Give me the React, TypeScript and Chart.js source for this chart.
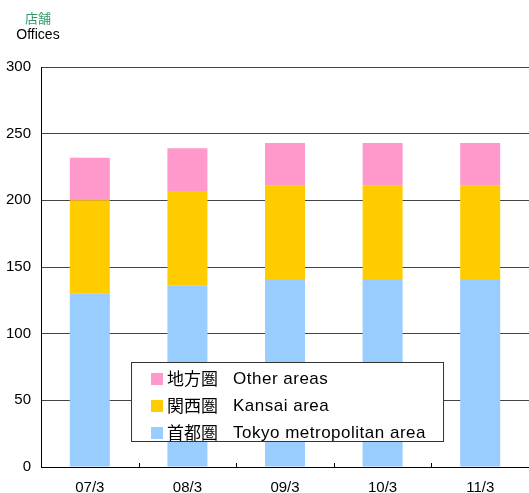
import React, { useEffect, useRef } from "react";
import { Chart, registerables } from "chart.js";

Chart.register(...registerables);

const categories = ["07/3", "08/3", "09/3", "10/3", "11/3"];
const tokyo = [130, 136, 141, 141, 141];
const kansai = [70, 71, 70, 70, 70];
const other = [32, 32, 32, 32, 32];
const seriesJa = ["首都圏", "関西圏", "地方圏"];
const seriesEn = ["Tokyo metropolitan area", "Kansai area", "Other areas"];
const seriesColors = ["#99CCFF", "#FFCC00", "#FF99CC"];
const yTitleJa = "店舗";
const yTitleEn = "Offices";

const LATIN = '"Liberation Sans", Arial, "Noto Sans CJK JP", sans-serif';

const decorPlugin = {
  id: "decor",
  afterDatasetsDraw(chart: any) {
    const { ctx, chartArea } = chart;
    const { left, right, bottom } = chartArea;
    ctx.save();
    // inward tick marks on x axis at category boundaries
    const n = categories.length;
    ctx.strokeStyle = "#000";
    ctx.lineWidth = 1;
    for (let i = 1; i < n; i++) {
      const x = Math.round(left + ((right - left) * i) / n) + 0.5;
      ctx.beginPath();
      ctx.moveTo(x, bottom - 4);
      ctx.lineTo(x, bottom);
      ctx.stroke();
    }
    // titles
    ctx.textAlign = "center";
    ctx.textBaseline = "middle";
    ctx.fillStyle = "#339966";
    ctx.font = '13px "Noto Sans CJK JP", sans-serif';
    ctx.fillText(yTitleJa, 38, 18);
    ctx.fillStyle = "#000";
    ctx.font = "14px " + LATIN;
    ctx.fillText(yTitleEn, 38, 35);

    // legend box
    const bx = left + 90;
    const by = bottom - 105;
    const bw = 312;
    const bh = 79;
    ctx.fillStyle = "#fff";
    ctx.fillRect(bx, by, bw, bh);
    ctx.strokeStyle = "#333";
    ctx.strokeRect(bx + 0.5, by + 0.5, bw, bh);
    const ds = chart.data.datasets;
    ctx.textAlign = "left";
    for (let k = 0; k < ds.length; k++) {
      const idx = ds.length - 1 - k;
      const cy = by + 17 + k * 27;
      ctx.fillStyle = ds[idx].backgroundColor;
      ctx.fillRect(bx + 20, cy - 6, 12, 12);
      ctx.fillStyle = "#000";
      ctx.font = '17px "Noto Sans CJK JP", sans-serif';
      (ctx as any).letterSpacing = "0px";
      ctx.fillText(seriesJa[idx], bx + 36, cy);
      ctx.font = "17px " + LATIN;
      (ctx as any).letterSpacing = "0.5px";
      ctx.fillText(seriesEn[idx], bx + 102, cy);
      (ctx as any).letterSpacing = "0px";
    }
    ctx.restore();
  },
};

export default function App() {
  const ref = useRef<HTMLCanvasElement>(null);
  useEffect(() => {
    if (!ref.current) return;
    const values = [tokyo, kansai, other];
    const chart = new Chart(ref.current, {
      type: "bar",
      data: {
        labels: categories,
        datasets: values.map((v, i) => ({
          label: seriesEn[i],
          data: v,
          backgroundColor: seriesColors[i],
          borderWidth: 0,
          categoryPercentage: 1,
          barPercentage: 0.41,
        })),
      },
      options: {
        animation: false,
        responsive: false,
        maintainAspectRatio: false,
        devicePixelRatio: 1,
        layout: { padding: { top: 67, left: -4, right: 0, bottom: -15 } },
        plugins: {
          legend: { display: false },
          tooltip: { enabled: false },
        },
        scales: {
          x: {
            stacked: true,
            grid: { display: false, drawTicks: false },
            border: { color: "#000", width: 1 },
            ticks: {
              color: "#000",
              font: { family: LATIN, size: 15, lineHeight: 1 },
              padding: 13,
              maxRotation: 0,
            },
          },
          y: {
            stacked: true,
            min: 0,
            max: 300,
            grid: { color: "#444", drawTicks: false, lineWidth: 1 },
            border: { color: "#000", width: 1 },
            ticks: {
              stepSize: 50,
              color: "#000",
              font: { family: LATIN, size: 15 },
              padding: 10,
            },
          },
        },
      },
      plugins: [decorPlugin],
    });
    return () => chart.destroy();
  }, []);
  return (
    <div style={{ position: "fixed", left: 0, top: 0, width: 529, height: 493, background: "#fff" }}>
      <canvas ref={ref} width={529} height={493} style={{ width: 529, height: 493 }} />
    </div>
  );
}
